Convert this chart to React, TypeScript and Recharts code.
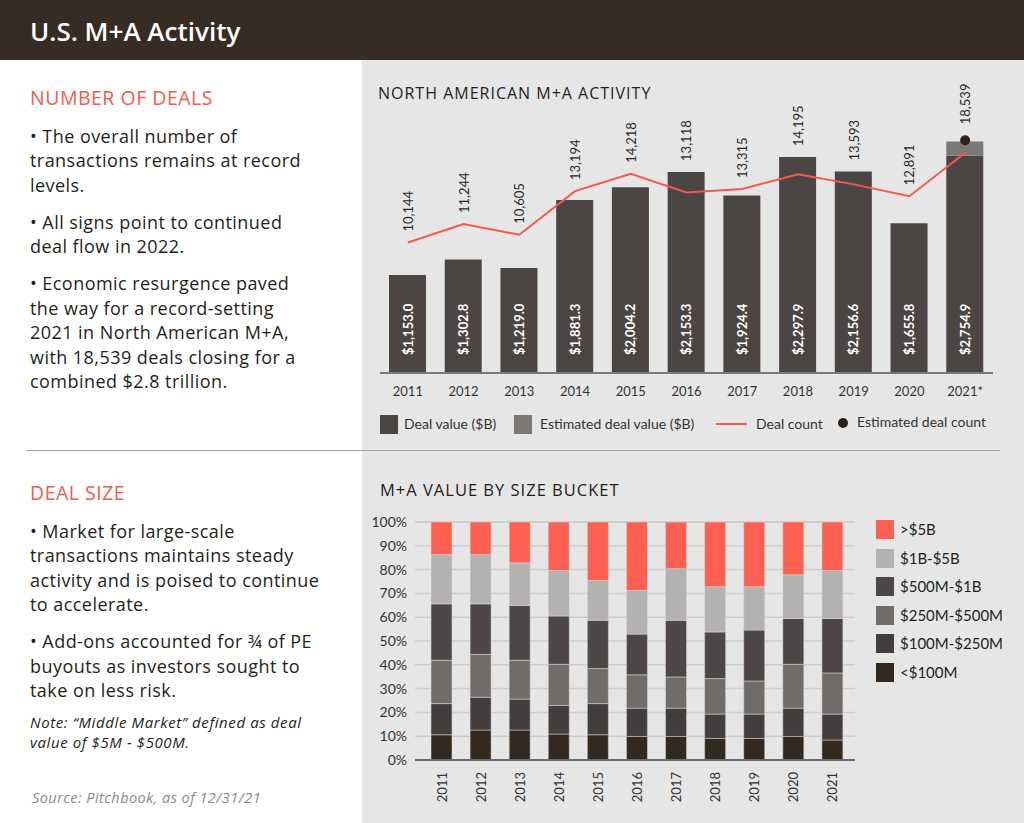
import React from 'react'
import {
  ComposedChart,
  BarChart,
  Bar,
  Line,
  XAxis,
  YAxis,
  CartesianGrid,
  LabelList,
} from 'recharts'

// ---- North American M+A activity ----
const years = ['2011', '2012', '2013', '2014', '2015', '2016', '2017', '2018', '2019', '2020', '2021*']
const dealValue = [1153.0, 1302.8, 1219.0, 1881.3, 2004.2, 2153.3, 1924.4, 2297.9, 2156.6, 1655.8, 2310]
const estDealValue = [0, 0, 0, 0, 0, 0, 0, 0, 0, 0, 140]
const valueLabels = ['$1,153.0', '$1,302.8', '$1,219.0', '$1,881.3', '$2,004.2', '$2,153.3', '$1,924.4', '$2,297.9', '$2,156.6', '$1,655.8', '$2,754.9']
const dealCount = [10144, 11244, 10605, 13194, 14218, 13118, 13315, 14195, 13593, 12891, 15470]
const estDealCount = [null, null, null, null, null, null, null, null, null, null, 16210]
const countLabels = ['10,144', '11,244', '10,605', '13,194', '14,218', '13,118', '13,315', '14,195', '13,593', '12,891', '18,539']

// ---- M+A value by size bucket (% of total) ----
const sizeYears = ['2011', '2012', '2013', '2014', '2015', '2016', '2017', '2018', '2019', '2020', '2021']
const under100M = [10.6, 12.6, 12.6, 10.9, 10.6, 9.9, 9.9, 9.1, 9.1, 9.9, 8.4]
const m100to250 = [13.1, 13.8, 13.0, 12.0, 13.1, 11.9, 11.9, 10.2, 10.2, 11.9, 10.9]
const m250to500 = [18.2, 18.0, 16.3, 17.3, 14.7, 14.0, 13.1, 14.9, 13.9, 18.4, 17.3]
const m500to1B = [23.7, 21.2, 23.0, 20.3, 20.3, 17.1, 23.8, 19.6, 21.4, 19.3, 22.9]
const b1to5 = [20.7, 20.7, 17.9, 19.1, 16.7, 18.3, 21.7, 19.0, 18.2, 18.3, 20.1]
const over5B = [13.7, 13.7, 17.2, 20.4, 24.6, 28.8, 19.6, 27.2, 27.2, 22.2, 20.4]
const pctTicks = [0, 10, 20, 30, 40, 50, 60, 70, 80, 90, 100]

const RED = '#f45a4c'
const DARK_BAR = '#4b4644'
const EST_BAR = '#7c7876'
const DOT = '#2b221c'
const TEXT = '#231f20'
const COPY_FONT = '"Open Sans", Lato, sans-serif'

const activityData = years.map((year, i) => ({
  year,
  value: dealValue[i],
  est: estDealValue[i],
  count: dealCount[i],
  estCount: estDealCount[i],
}))

const sizeSeries = [
  { key: 'under100', name: '<$100M', color: '#33291f', values: under100M },
  { key: 'm100', name: '$100M-$250M', color: '#423e3d', values: m100to250 },
  { key: 'm250', name: '$250M-$500M', color: '#706c6a', values: m250to500 },
  { key: 'm500', name: '$500M-$1B', color: '#4d4847', values: m500to1B },
  { key: 'b1', name: '$1B-$5B', color: '#b4b2b1', values: b1to5 },
  { key: 'over5', name: '>$5B', color: '#fd6051', values: over5B },
]

const sizeData = sizeYears.map((year, i) => {
  const row: Record<string, string | number> = { year }
  sizeSeries.forEach((s) => { row[s.key] = s.values[i] })
  return row
})

// pixel tops of columns / estimate dots, keyed by the column's centre x
const tops: Record<string, Record<number, number>> = { bar: {}, est: {}, dot: {} }

const vbOf = (props: any) => props.viewBox || props
const okNum = (v: any) => typeof v === 'number' && isFinite(v)

const recordTop = (group: string, props: any, centre: boolean, lift = 0) => {
  const vb = vbOf(props)
  if (!okNum(vb.y) || !okNum(vb.x)) return
  const cx = centre ? vb.x + (vb.width || 0) / 2 : vb.x
  tops[group][Math.round(cx)] = vb.y - lift
}

const RecordEstTop = (props: any) => {
  if (props.value) recordTop('est', props, true)
  return null
}

const RecordDot = (props: any) => {
  if (props.value != null) recordTop('dot', props, false, 5)
  return null
}

const ValueLabel = (props: any) => {
  recordTop('bar', props, true)
  const vb = vbOf(props)
  const x = vb.x + vb.width / 2
  const y = vb.y + vb.height - 18
  return (
    <text
      x={x}
      y={y}
      transform={`rotate(-90 ${x} ${y})`}
      textAnchor="start"
      dominantBaseline="central"
      fill="#ffffff"
      fontSize={13}
      fontWeight={700}
    >
      {valueLabels[props.index]}
    </text>
  )
}

const lookup = (group: string, x: number) => {
  const m = tops[group]
  for (const k of Object.keys(m)) {
    if (Math.abs(Number(k) - x) <= 2) return m[Number(k)]
  }
  return undefined
}

const CountLabel = (props: any) => {
  const vb = vbOf(props)
  const x = vb.x
  const candidates = [vb.y, lookup('bar', x), lookup('est', x), lookup('dot', x)].filter(okNum) as number[]
  const y = Math.min(...candidates) - 11
  return (
    <text
      x={x}
      y={y}
      transform={`rotate(-90 ${x} ${y})`}
      textAnchor="start"
      dominantBaseline="central"
      fill="#2b2b2b"
      fontSize={13}
    >
      {countLabels[props.index]}
    </text>
  )
}

const YearTick = (props: any) => {
  const { x, y, payload } = props
  const ty = y + 4
  return (
    <text
      x={x}
      y={ty}
      transform={`rotate(-90 ${x} ${ty})`}
      textAnchor="end"
      dominantBaseline="central"
      fill="#333"
      fontSize={13}
    >
      {payload.value}
    </text>
  )
}

const Bullet = ({ lines }: { lines: string[] }) => (
  <p style={{ margin: '0 0 12.5px 0' }}>
    {lines.map((l, i) => (
      <React.Fragment key={i}>
        {l}
        {i < lines.length - 1 && <br />}
      </React.Fragment>
    ))}
  </p>
)

function ActivityLegend() {
  const item = { position: 'absolute' as const, top: 415, fontSize: 14, color: '#333', lineHeight: '18px' }
  return (
    <>
      <div style={{ ...item, left: 380, width: 18, height: 19, background: DARK_BAR }} />
      <div style={{ ...item, left: 404 }}>Deal value ($B)</div>
      <div style={{ ...item, left: 514, width: 18, height: 19, background: EST_BAR }} />
      <div style={{ ...item, left: 540 }}>Estimated deal value ($B)</div>
      <div style={{ position: 'absolute', left: 716, top: 423, width: 31, height: 2, background: RED }} />
      <div style={{ ...item, left: 756 }}>Deal count</div>
      <div style={{ position: 'absolute', left: 838, top: 418, width: 10, height: 10, borderRadius: 5, background: DOT }} />
      <div style={{ ...item, left: 857, top: 413 }}>Estimated deal count</div>
    </>
  )
}

function SizeLegend() {
  const ordered = [...sizeSeries].reverse()
  return (
    <>
      {ordered.map((s, i) => (
        <React.Fragment key={s.key}>
          <div style={{ position: 'absolute', left: 876, top: 520 + i * 28.5, width: 18, height: 19, background: s.color }} />
          <div style={{ position: 'absolute', left: 900, top: 520 + i * 28.5, lineHeight: '19px', fontSize: 15, color: TEXT }}>
            {s.name}
          </div>
        </React.Fragment>
      ))}
    </>
  )
}

export default function App() {
  return (
    <div
      style={{
        position: 'absolute',
        left: 0,
        top: 0,
        width: 1024,
        height: 823,
        background: '#ffffff',
        fontFamily: 'Lato, "Open Sans", sans-serif',
        color: TEXT,
        overflow: 'hidden',
      }}
    >
      {/* header */}
      <div style={{ position: 'absolute', left: 0, top: 0, width: 1024, height: 60, background: '#372c23' }} />
      <div
        style={{
          position: 'absolute',
          left: 30,
          top: 0,
          height: 62,
          lineHeight: '62px',
          fontSize: 26,
          fontWeight: 600,
          color: '#fff',
          fontFamily: COPY_FONT,
        }}
      >
        U.S. M+A Activity
      </div>

      {/* right panel */}
      <div style={{ position: 'absolute', left: 362, top: 60, width: 662, height: 763, background: '#e6e6e6' }} />

      {/* left copy */}
      <div style={{ fontFamily: COPY_FONT }}>
        <div style={{ position: 'absolute', left: 30, top: 86, lineHeight: '24px', fontSize: 19.5, letterSpacing: 0.5, color: RED }}>
          NUMBER OF DEALS
        </div>
        <div style={{ position: 'absolute', left: 30, top: 123.75, width: 340, lineHeight: '24.5px', fontSize: 18, letterSpacing: 0.45 }}>
          <Bullet lines={['• The overall number of', 'transactions remains at record', 'levels.']} />
          <Bullet lines={['• All signs point to continued', 'deal flow in 2022.']} />
          <Bullet lines={['• Economic resurgence paved', 'the way for a record-setting', '2021 in North American M+A,', 'with 18,539 deals closing for a', 'combined $2.8 trillion.']} />
        </div>

        <div style={{ position: 'absolute', left: 30, top: 481, lineHeight: '24px', fontSize: 19.5, letterSpacing: 0.5, color: RED }}>
          DEAL SIZE
        </div>
        <div style={{ position: 'absolute', left: 30, top: 518.5, width: 340, lineHeight: '24.5px', fontSize: 18, letterSpacing: 0.45 }}>
          <Bullet lines={['• Market for large-scale', 'transactions maintains steady', 'activity and is poised to continue', 'to accelerate.']} />
          <Bullet lines={['• Add-ons accounted for ¾ of PE', 'buyouts as investors sought to', 'take on less risk.']} />
        </div>
        <div style={{ position: 'absolute', left: 30, top: 713, lineHeight: '19.5px', fontSize: 15, letterSpacing: 0.6, fontStyle: 'italic' }}>
          Note: “Middle Market” defined as deal
          <br />
          value of $5M - $500M.
        </div>
        <div
          style={{
            position: 'absolute',
            left: 32,
            top: 788,
            lineHeight: '19.5px',
            fontSize: 14.5,
            letterSpacing: 0.45,
            fontStyle: 'italic',
            color: '#8a8a8a',
          }}
        >
          Source: Pitchbook, as of 12/31/21
        </div>

        {/* chart titles */}
        <div style={{ position: 'absolute', left: 378, top: 84, lineHeight: '18px', fontSize: 16, letterSpacing: 1 }}>
          NORTH AMERICAN M+A ACTIVITY
        </div>
        <div style={{ position: 'absolute', left: 380, top: 481, lineHeight: '18px', fontSize: 16.5, letterSpacing: 1 }}>
          M+A VALUE BY SIZE BUCKET
        </div>
      </div>

      <div style={{ position: 'absolute', left: 26, top: 450, width: 974, height: 1, background: '#a3a3a3' }} />

      {/* top chart */}
      <div style={{ position: 'absolute', left: 362, top: 60 }}>
        <ComposedChart
          width={662}
          height={390}
          data={activityData}
          margin={{ top: 40, right: 31, left: 18, bottom: 47 }}
          barSize={37}
        >
          <XAxis
            dataKey="year"
            tickLine={false}
            axisLine={{ stroke: '#7a7a7a', strokeWidth: 2 }}
            tick={{ fill: '#333', fontSize: 13 }}
            tickMargin={8}
            height={30}
            interval={0}
          />
          <YAxis yAxisId="val" hide domain={[200, 2852]} allowDataOverflow />
          <YAxis yAxisId="cnt" hide domain={[2413, 18594]} allowDataOverflow />
          <Bar yAxisId="val" dataKey="value" stackId="v" fill={DARK_BAR} isAnimationActive={false}>
            <LabelList dataKey="value" content={<ValueLabel />} />
          </Bar>
          <Bar yAxisId="val" dataKey="est" stackId="v" fill={EST_BAR} isAnimationActive={false}>
            <LabelList dataKey="est" content={<RecordEstTop />} />
          </Bar>
          <Line
            yAxisId="cnt"
            dataKey="estCount"
            stroke="none"
            dot={{ r: 5, fill: DOT, stroke: 'none' }}
            isAnimationActive={false}
          >
            <LabelList dataKey="estCount" content={<RecordDot />} />
          </Line>
          <Line
            yAxisId="cnt"
            type="linear"
            dataKey="count"
            stroke={RED}
            strokeWidth={2}
            dot={false}
            isAnimationActive={false}
          >
            <LabelList dataKey="count" content={<CountLabel />} />
          </Line>
        </ComposedChart>
      </div>
      <ActivityLegend />

      {/* bottom chart */}
      <div style={{ position: 'absolute', left: 362, top: 450 }}>
        <BarChart
          width={662}
          height={373}
          data={sizeData}
          margin={{ top: 72, right: 169, left: 13, bottom: 13 }}
          barSize={21}
        >
          <CartesianGrid vertical={false} stroke="#cdcdcd" strokeWidth={1.5} />
          <XAxis
            dataKey="year"
            tickLine={false}
            axisLine={{ stroke: '#6a6a6a', strokeWidth: 2 }}
            tick={<YearTick />}
            height={50}
            interval={0}
            padding={{ left: 7, right: 3 }}
          />
          <YAxis
            width={40}
            domain={[0, 100]}
            ticks={pctTicks}
            tickFormatter={(v) => `${v}%`}
            tickLine={false}
            axisLine={false}
            tick={{ fill: '#333', fontSize: 14 }}
            interval={0}
          />
          {sizeSeries.map((s) => (
            <Bar
              key={s.key}
              dataKey={s.key}
              stackId="s"
              fill={s.color}
              stroke="#dcdcdc"
              strokeWidth={0.5}
              isAnimationActive={false}
            />
          ))}
        </BarChart>
      </div>
      <SizeLegend />
    </div>
  )
}
